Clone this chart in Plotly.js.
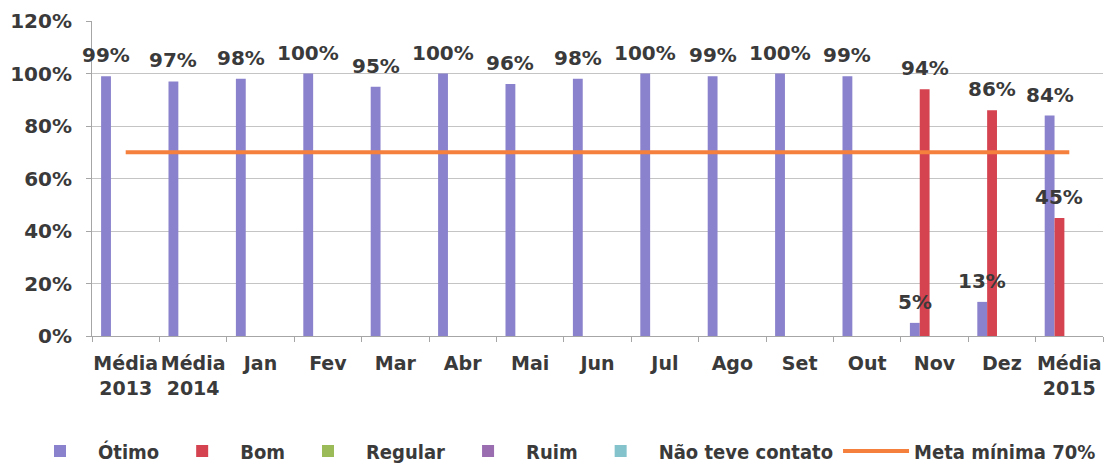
<!DOCTYPE html>
<html>
<head>
<meta charset="utf-8">
<script src="https://cdn.plot.ly/plotly-3.0.1.min.js"></script>
<style>html,body{margin:0;padding:0;background:#fff;}#chart{width:1120px;height:465px;}</style>
</head>
<body>
<div id="chart"></div>
<script>
// ---- data ----
const categories = ['Média<br>2013','Média<br>2014','Jan','Fev','Mar','Abr','Mai','Jun','Jul','Ago','Set','Out','Nov','Dez','Média<br>2015'];
const otimo   = [99, 97, 98, 100, 95, 100, 96, 98, 100, 99, 100, 99, 5, 13, 84];
const bom     = [null,null,null,null,null,null,null,null,null,null,null,null, 94, 86, 45];
const regular = [null,null,null,null,null,null,null,null,null,null,null,null,null,null,null];
const ruim    = [null,null,null,null,null,null,null,null,null,null,null,null,null,null,null];
const naoTeveContato = [null,null,null,null,null,null,null,null,null,null,null,null,null,null,null];
const metaMinima = [70,70,70,70,70,70,70,70,70,70,70,70,70,70,70];
const yTicks = [0,20,40,60,80,100,120];

const seriesNames  = ['Ótimo','Bom','Regular','Ruim','Não teve contato'];
const seriesValues = [otimo, bom, regular, ruim, naoTeveContato];
const seriesColors = ['#8a82cc','#d4434f','#9bbb59','#9a6cb0','#84c2cc'];

// ---- layout constants ----
const W = 1120, H = 465;
const margin = {l: 92, r: 17, t: 21, b: 129, autoexpand: false};
const bargap = 0.27;
const txt = '#3a3a3a';
const boldFont = 'DejaVu Sans';
const plotW = W - margin.l - margin.r;
const plotH = H - margin.t - margin.b;

const traces = seriesNames.map((name, i) => ({
  type: 'bar',
  name: name,
  x: categories,
  y: seriesValues[i],
  marker: {color: seriesColors[i], line: {width: 0}},
  hoverinfo: 'skip'
}));
traces.push({
  type: 'scatter',
  mode: 'lines',
  name: 'Meta mínima 70%',
  x: categories,
  y: metaMinima,
  line: {color: '#f5803e', width: 4},
  hoverinfo: 'skip'
});

// value labels above each bar
const barPx = plotW / categories.length * (1 - bargap) / seriesNames.length;
const annotations = [];
seriesValues.forEach((vals, i) => {
  vals.forEach((v, j) => {
    if (v === null) return;
    annotations.push({
      x: categories[j], y: v, xref: 'x', yref: 'y',
      xshift: (i - (seriesNames.length - 1) / 2) * barPx,
      yshift: 21, yanchor: 'middle',
      text: v + '%', showarrow: false,
      font: {family: boldFont, size: 20, color: txt, weight: 'bold'}
    });
  });
});

const layout = {
  width: W, height: H,
  margin: margin,
  paper_bgcolor: '#ffffff',
  plot_bgcolor: '#ffffff',
  barmode: 'group',
  bargap: bargap,
  bargroupgap: 0,
  showlegend: true,
  legend: {
    orientation: 'h',
    x: (22 - margin.l) / plotW, xref: 'paper', xanchor: 'left',
    y: ((H - margin.b) - 451) / plotH, yref: 'paper', yanchor: 'middle',
    font: {family: 'DejaVu Sans Condensed, sans-serif', size: 20, color: txt, weight: 'bold'},
    itemwidth: 66,
    traceorder: 'normal'
  },
  xaxis: {
    type: 'category',
    automargin: false,
    range: [-0.5, categories.length - 0.5],
    tickangle: 0,
    showline: true, linecolor: '#a6a6a6', linewidth: 1,
    ticks: 'outside', tickson: 'boundaries', ticklen: 5, tickcolor: '#a6a6a6',
    tickfont: {family: boldFont, size: 19, color: txt, weight: 'bold'},
    ticklabelstandoff: 10,
    showgrid: false, zeroline: false, fixedrange: true
  },
  yaxis: {
    automargin: false,
    range: [0, 120],
    tickvals: yTicks,
    ticktext: yTicks.map(v => v + '%'),
    showline: true, linecolor: '#a6a6a6', linewidth: 1,
    ticks: 'outside', ticklen: 5, tickcolor: '#a6a6a6',
    tickfont: {family: boldFont, size: 20, color: txt, weight: 'bold'},
    ticklabelstandoff: 10,
    showgrid: true, gridcolor: '#c4c4c4', gridwidth: 1,
    zeroline: false, fixedrange: true
  },
  annotations: annotations
};

Plotly.newPlot('chart', traces, layout, {staticPlot: true, displayModeBar: false});
</script>
</body>
</html>
